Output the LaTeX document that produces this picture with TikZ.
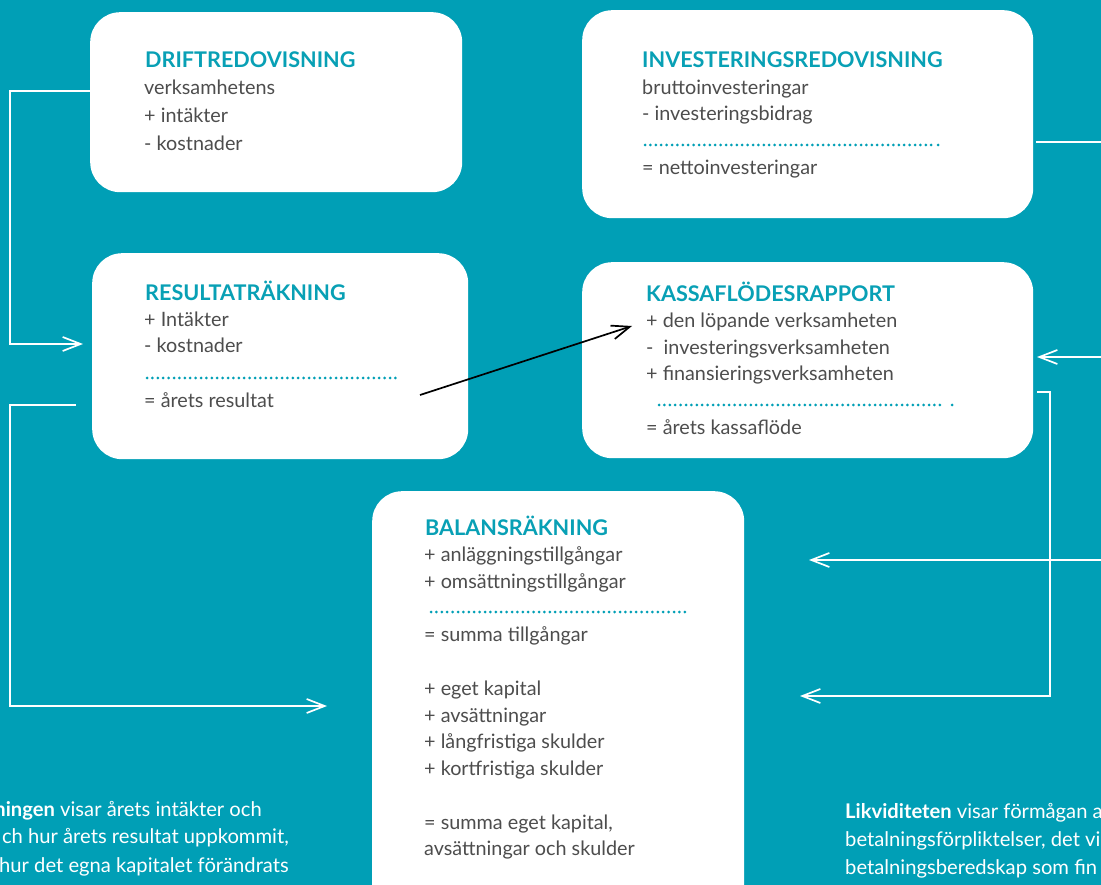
\documentclass[tikz,border=0pt]{standalone}
\usepackage{fontspec}
\setmainfont{Lato}
\usetikzlibrary{arrows.meta}
\definecolor{teal1}{RGB}{0,159,182}
\definecolor{head}{RGB}{8,160,181}
\definecolor{gray1}{RGB}{77,77,77}
\begin{document}
\begin{tikzpicture}[x=1pt,y=-1pt,
  box/.style={fill=white, draw=none, rounded corners=30pt, inner sep=0pt, anchor=north west},
  ttl/.style={anchor=base west, inner sep=0pt, text=head, font=\bfseries\fontsize{21.6}{25}\selectfont},
  txt/.style={anchor=base west, inner sep=0pt, text=gray1, font=\fontsize{19.8}{23}\selectfont},
  foot/.style={inner sep=0pt, text=white, font=\fontsize{20.2}{24}\selectfont},
  dots/.style={draw=teal1, line width=3pt, dash pattern=on 0pt off 5.4pt, line cap=round},
  wire/.style={draw=white, line width=1.7pt},
  arr/.style={wire, -{Straight Barb[length=18pt,width=14pt]}},
  blackarr/.style={draw=black, line width=1.7pt, -{Straight Barb[length=18pt,width=14pt]}}
]
\useasboundingbox (0,0) rectangle (1101,885);
\clip (0,0) rectangle (1101,885);
\fill[teal1] (0,0) rectangle (1101,885);

% boxes
\node[box, minimum width=372pt, minimum height=180pt] (drift) at (90,12) {};
\node[box, minimum width=451pt, minimum height=208pt] (inv) at (582,10) {};
\node[box, minimum width=376pt, minimum height=206pt] (res) at (92,253) {};
\node[box, minimum width=451pt, minimum height=196pt] (kassa) at (582,262) {};
\node[box, minimum width=372pt, minimum height=440pt] (bal) at (372,491) {};

% DRIFTREDOVISNING
\node[ttl] (d0) at (145,68) {DRIFTREDOVISNING};
\node[txt] (d1) at (144,95) {verksamhetens};
\node[txt] (d2) at (144,123) {+ intäkter};
\node[txt] (d3) at (144,151) {- kostnader};

% INVESTERINGSREDOVISNING
\node[ttl] (i0) at (642,68) {INVESTERINGSREDOVISNING};
\node[txt] (i1) at (642,95) {bruttoinvesteringar};
\node[txt] (i2) at (642,121) {- investeringsbidrag};
\draw[dots] (645,145) -- (933,145);
\fill[teal1] (938,145) circle (1.5pt);
\node[txt] (i3) at (642,175) {= nettoinvesteringar};

% RESULTATRÄKNING
\node[ttl] (r0) at (145,301) {RESULTATRÄKNING};
\node[txt] (r1) at (144,327) {+ Intäkter};
\node[txt] (r2) at (144,353) {- kostnader};
\draw[dots] (147,378) -- (398,378);
\node[txt] (r3) at (144,407) {= årets resultat};

% KASSAFLÖDESRAPPORT
\node[ttl] (k0) at (646,302) {KASSAFLÖDESRAPPORT};
\node[txt] (k1) at (646,328) {+ den löpande verksamheten};
\node[txt] (k2) at (646,355) {-\ \ investeringsverksamheten};
\node[txt] (k3) at (646,381) {+ finansieringsverksamheten};
\draw[dots] (659,405) -- (944,405);
\fill[teal1] (952,405) circle (1.5pt);
\node[txt] (k4) at (646,434) {= årets kassaflöde};

% BALANSRÄKNING
\node[ttl] (b0) at (425,535) {BALANSRÄKNING};
\node[txt] (b1) at (424,561) {+ anläggningstillgångar};
\node[txt] (b2) at (424,588) {+ omsättningstillgångar};
\draw[dots] (431,612) -- (687,612);
\node[txt] (b3) at (424,641) {= summa tillgångar};
\node[txt] (b4) at (424,695) {+ eget kapital};
\node[txt] (b5) at (424,722) {+ avsättningar};
\node[txt] (b6) at (424,748) {+ långfristiga skulder};
\node[txt] (b7) at (424,775) {+ kortfristiga skulder};
\node[txt] (b8) at (424,829) {= summa eget kapital,};
\node[txt] (b9) at (424,855) {avsättningar och skulder};

% footer texts
\node[foot, anchor=base east] (lt1) at (262,816) {\textbf{ningen} visar årets intäkter och};
\node[foot, anchor=base east] (lt2) at (289,843) {ch hur årets resultat uppkommit,};
\node[foot, anchor=base east] (lt3) at (289,872) {hur det egna kapitalet förändrats};
\node[foot, anchor=base west] (rt1) at (845,818) {\textbf{Likviditeten} visar förmågan a};
\node[foot, anchor=base west] (rt2) at (845,846) {betalningsförpliktelser, det vi};
\node[foot, anchor=base west] (rt3) at (845,874) {betalningsberedskap som fin};

% coordinates for connector ends
\coordinate (lA) at (10,91);
\coordinate (lB) at (10,344);
\coordinate (lC) at (83,344);
\coordinate (mA) at (76,405);
\coordinate (mB) at (10,405);
\coordinate (mC) at (10,706);
\coordinate (mD) at (327,706);
\coordinate (bkA) at (420,395);
\coordinate (bkB) at (632,326);
\coordinate (rA) at (1036,142);
\coordinate (rB) at (1101,142);
\coordinate (rC) at (1101,357);
\coordinate (rD) at (1037,357);
\coordinate (rE) at (1037,392);
\coordinate (rF) at (1050,392);
\coordinate (rG) at (1050,696);
\coordinate (rH) at (800,696);
\coordinate (rI) at (1101,560);
\coordinate (rJ) at (809,560);

% connectors
\draw[arr] (drift.west |- lA) -- (lA) -- (lB) -- (lC);
\draw[arr] (mA) -- (mB) -- (mC) -- (mD);
\draw[blackarr] (bkA) -- (bkB);
\draw[wire] (rA) -- (rB);
\draw[arr] (rC) -- (rD);
\draw[arr] (rE) -- (rF) -- (rG) -- (rH);
\draw[arr] (rI) -- (rJ);
\end{tikzpicture}
\end{document}
